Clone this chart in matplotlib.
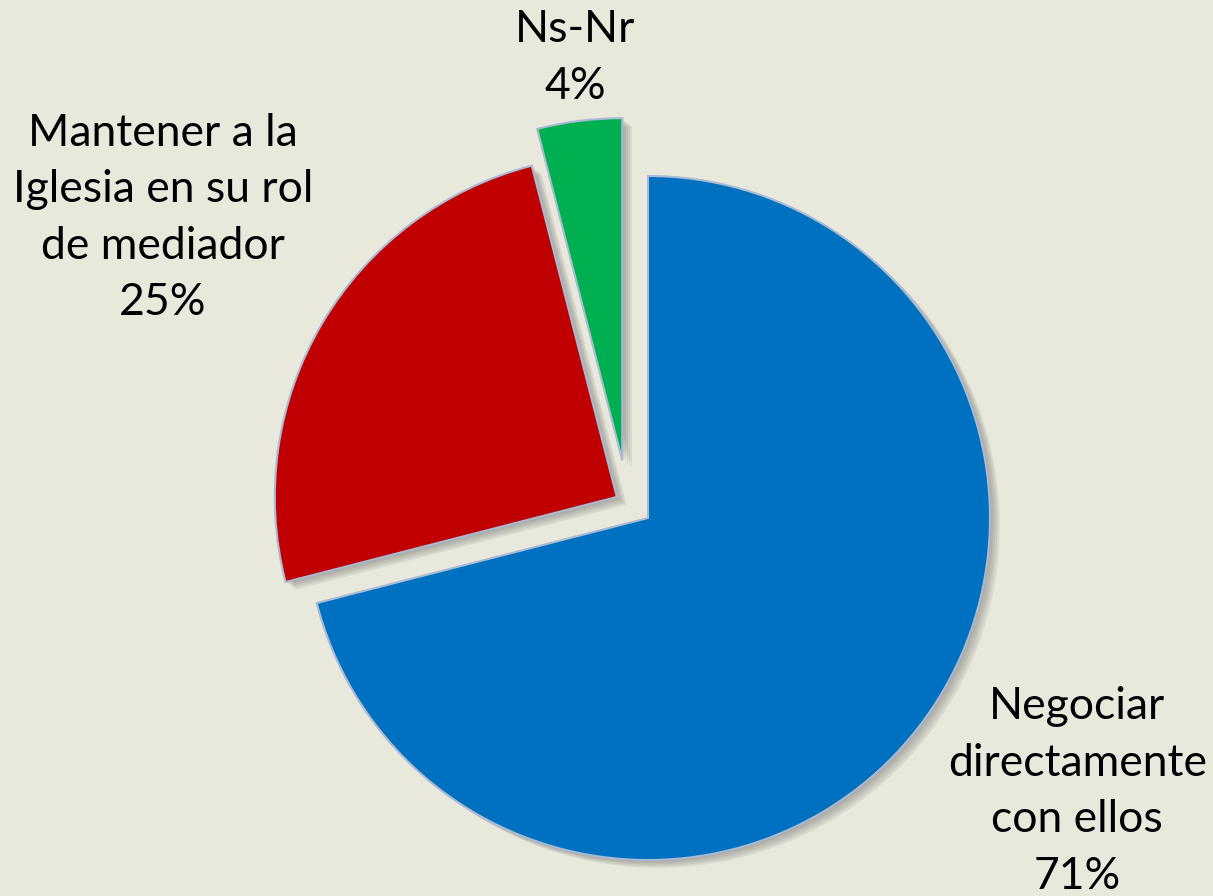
import matplotlib.pyplot as plt
import matplotlib.patheffects as pe
import numpy as np

labels = ['Negociar\ndirectamente\ncon ellos', 'Mantener a la\nIglesia en su rol\nde mediador', 'Ns-Nr']
values = [71, 25, 4]
colors = ['#0070C0', '#C00000', '#00B050']

# explode: (distance, direction in degrees), None = not exploded
explode_dir = [None, (0.11, 146), (0.185, 114)]
# label block centres in data units
label_pos = [(1.255, -0.80), (-1.418, 0.877), (-0.213, 1.345)]

bg = '#E9E8DD'
fig = plt.figure(figsize=(12.13, 8.96), dpi=100, facecolor=bg)
ax = fig.add_axes([0, 0, 1, 1])
ax.set_facecolor(bg)

wedges, _ = ax.pie(values, startangle=90, counterclock=False, colors=colors,
                   radius=1.0, center=(0, 0),
                   wedgeprops=dict(edgecolor='#A9BAD2', linewidth=1.5))

shadow = [pe.SimplePatchShadow(offset=(o, -o * 0.8), shadow_rgbFace='#505050', alpha=0.10)
          for o in (1, 2.5, 4, 5.5, 7)]
for w, ex in zip(wedges, explode_dir):
    if ex is not None:
        d, a = ex
        w.set_center((d * np.cos(np.radians(a)), d * np.sin(np.radians(a))))
    w.set_path_effects(shadow + [pe.Normal()])

for lab, v, (x, y) in zip(labels, values, label_pos):
    ax.text(x, y, f'{lab}\n{v}%', ha='center', va='center', fontsize=32,
            family='Lato', color='black', linespacing=1.47)

ax.set_xlim(-648 / 342, (1213 - 648) / 342)
ax.set_ylim((518 - 896) / 342, 518 / 342)
ax.set_aspect('auto')
ax.axis('off')

fig.savefig('out.png', dpi=100, facecolor=bg)
